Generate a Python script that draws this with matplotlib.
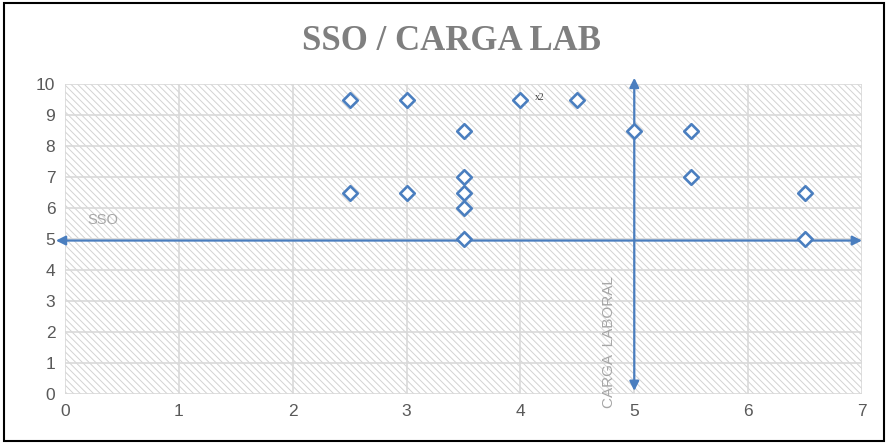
import matplotlib
matplotlib.use("Agg")
import matplotlib.pyplot as plt
from matplotlib.patches import Rectangle

x_vals = [2.5, 3, 4, 4.5, 2.5, 3, 3.5, 3.5, 3.5, 3.5, 3.5, 5, 5.5, 5.5, 6.5, 6.5]
y_vals = [9.5, 9.5, 9.5, 9.5, 6.5, 6.5, 8.5, 7, 6.5, 6, 5, 8.5, 8.5, 7, 6.5, 5]
x_ticks = [0, 1, 2, 3, 4, 5, 6, 7]
y_ticks = [0, 1, 2, 3, 4, 5, 6, 7, 8, 9, 10]
sso_level = 4.95
carga_level = 5
title = "SSO / CARGA LAB"

plt.rcParams['hatch.linewidth'] = 0.7

fig = plt.figure(figsize=(8.88, 4.44), dpi=100)
ax = fig.add_axes([65/888, 1 - 394/444, (862-65)/888, (394-84)/444])

blue = '#4a7ebf'
ax.set_xlim(0, 7)
ax.set_ylim(0, 10)
ax.add_patch(Rectangle((0, 0), 7, 10, facecolor='white', edgecolor='#d2d2d2',
                       linewidth=0, hatch='\\' * 5, zorder=0))
ax.set_xticks(x_ticks)
ax.set_yticks(y_ticks)
ax.grid(True, color='#d9d9d9', linewidth=1.2, zorder=1)
for s in ax.spines.values():
    s.set_visible(False)
ax.tick_params(length=0, labelsize=12.5, colors='#595959', pad=7)
for lab in ax.get_xticklabels() + ax.get_yticklabels():
    lab.set_fontfamily('Liberation Sans')

# arrows
ax.annotate('', xy=(7.0, sso_level), xytext=(-0.08, sso_level),
            arrowprops=dict(arrowstyle='<|-|>', color=blue, lw=1.6,
                            mutation_scale=14, shrinkA=0, shrinkB=0),
            annotation_clip=False, zorder=4)
ax.annotate('', xy=(carga_level, 10.2), xytext=(carga_level, 0.1),
            arrowprops=dict(arrowstyle='<|-|>', color=blue, lw=1.6,
                            mutation_scale=14, shrinkA=0, shrinkB=0),
            annotation_clip=False, zorder=4)

ax.scatter(x_vals, y_vals, marker='D', s=55, facecolors='white',
           edgecolors=blue, linewidths=1.9, zorder=5)

ax.text(4.13, 9.55, 'x2', fontsize=7, color='#404040', family='Liberation Serif',
        va='center', ha='left', zorder=6)
ax.text(0.2, 5.6, 'SSO', fontsize=10.5, color='#a6a6a6', family='Liberation Sans',
        va='center', ha='left', zorder=6)
ax.text(4.78, -0.45, 'CARGA  LABORAL', fontsize=11, color='#a6a6a6',
        family='Liberation Sans', rotation=90, va='bottom', ha='center', zorder=6)

fig.text(0.508, 1 - 42/444, title, fontsize=25, fontweight='bold', color='#7f7f7f',
         family='Liberation Serif', ha='center', va='center')

fig.add_artist(Rectangle((0.004, 0.006), 0.992, 0.988, transform=fig.transFigure,
                         fill=False, edgecolor='black', linewidth=1.5))

fig.savefig('out.png', dpi=100)
